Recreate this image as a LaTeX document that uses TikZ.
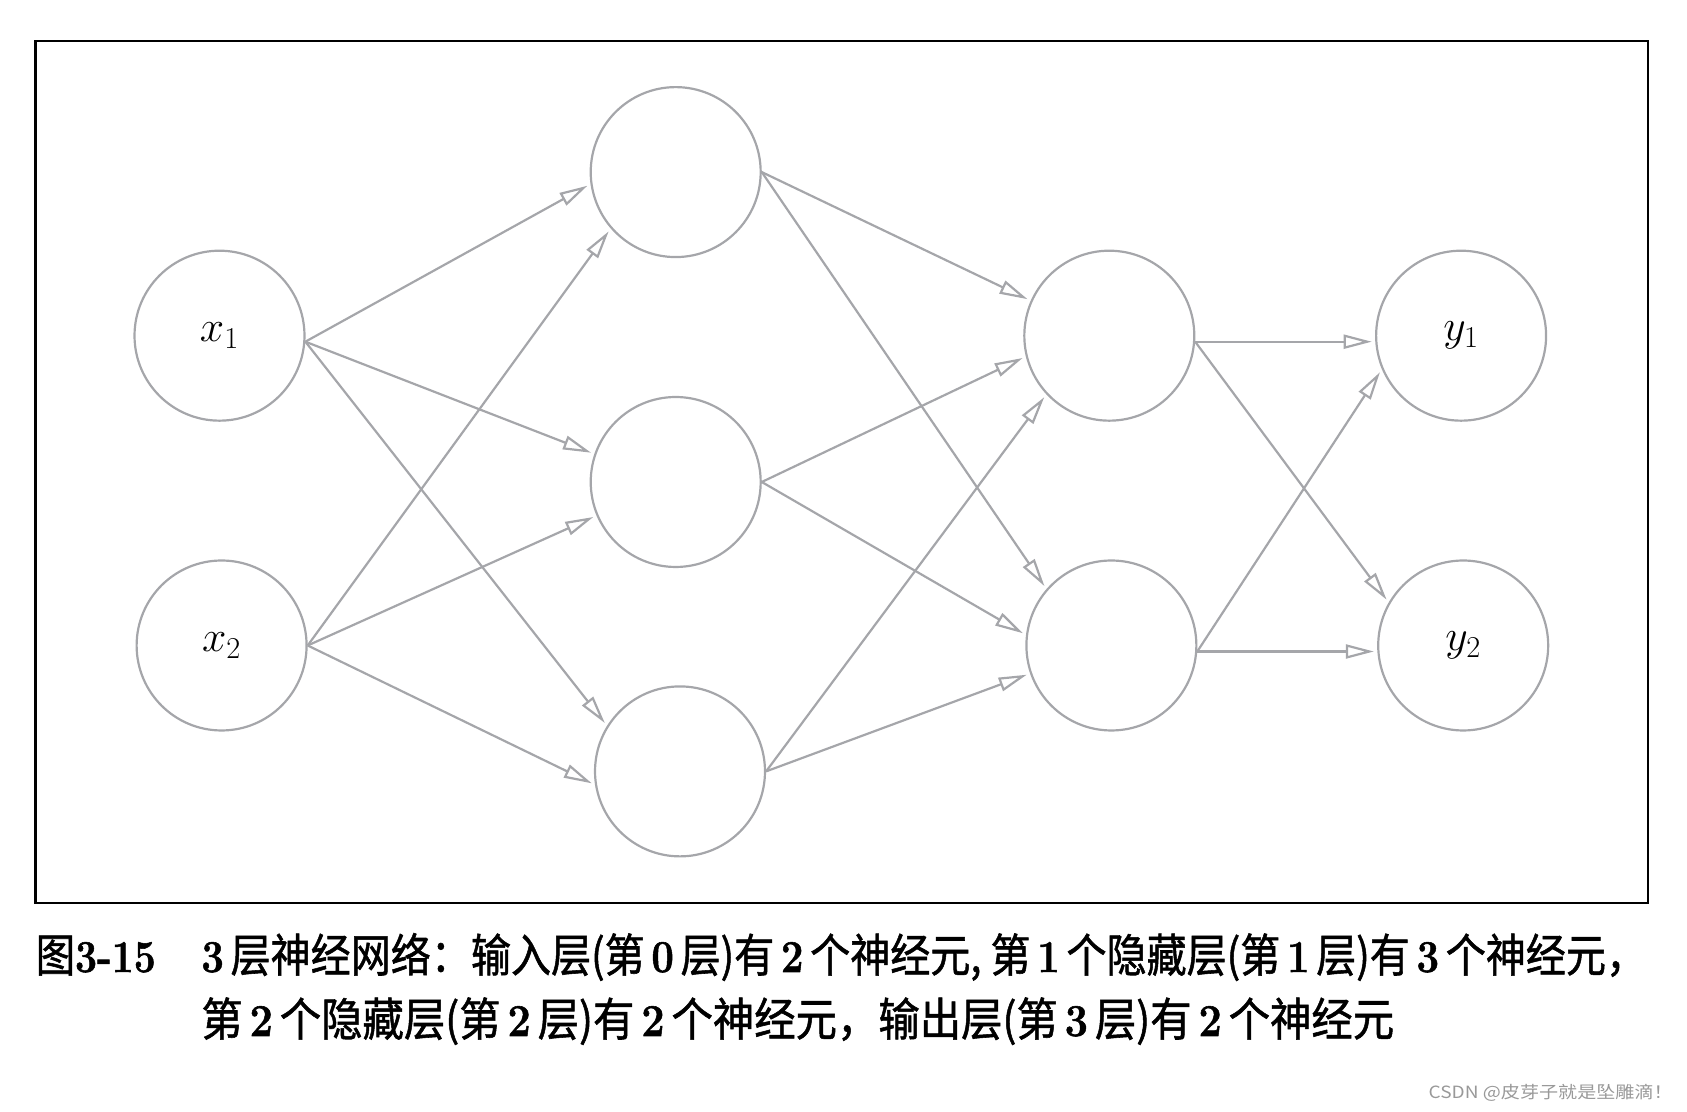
\documentclass[tikz,border=0pt]{standalone}
\usepackage{fontspec}
\usepackage{graphicx}
\newfontfamily\cjk{Noto Sans CJK SC}
\newfontfamily\cjkb{Noto Sans CJK SC}[FakeBold=1.2]
\newfontfamily\numf{Latin Modern Roman}[BoldFeatures={FakeBold=1.2}]
\usetikzlibrary{arrows.meta}
\definecolor{netgray}{RGB}{165,166,170}
\newcommand\bnum[1]{{\numf\bfseries #1}}
\begin{document}
\begin{tikzpicture}[x=0.02cm,y=0.02cm,
  neuron/.style={circle,draw=netgray,line width=1.25pt,minimum size=3.4cm,inner sep=0pt,font=\fontsize{24}{28}\selectfont},
  conn/.style={draw=netgray,line width=1.25pt,-{Triangle[open,length=0.56cm,width=0.28cm,line width=1.25pt]},shorten >=2pt},
  capline/.style={anchor=base west,inner sep=0pt,font=\cjkb\fontsize{26}{30}\selectfont}]
\useasboundingbox (0,0) rectangle (1687,1112);
\draw[line width=1.2pt] (35.5,209.3) rectangle (1648.3,1071.1);
\node[neuron] (x1) at (219.5,776.3) {$x_1$};
\node[neuron] (x2) at (221.6,466.5) {$x_2$};
\node[neuron] (h1) at (675.7,939.9) {};
\node[neuron] (h2) at (675.7,630.0) {};
\node[neuron] (h3) at (680.0,340.6) {};
\node[neuron] (o1) at (1109.3,776.3) {};
\node[neuron] (o2) at (1111.4,466.5) {};
\node[neuron] (y1) at (1461.1,776.3) {$y_1$};
\node[neuron] (y2) at (1463.2,466.5) {$y_2$};
% layer 1
\draw[conn] (x1.-4) -- (h1.188);
\draw[conn] (x2.0) -- (h1.221);
\draw[conn] (x1.-4) -- (h2.161);
\draw[conn] (x2.0) -- (h2.203);
\draw[conn] (x1.-4) -- (h3.148);
\draw[conn] (x2.0) -- (h3.189);
% layer 2
\draw[conn] (h1.0) -- (o1.156);
\draw[conn] (h2.0) -- (o1.194);
\draw[conn] (h3.0) -- (o1.223);
\draw[conn] (h1.0) -- (o2.139);
\draw[conn] (h2.0) -- (o2.173);
\draw[conn] (h3.0) -- (o2.199);
% layer 3
\draw[conn] (o1.-4) -- (y1.184);
\draw[conn] (o2.-4) -- (y1.203);
\draw[conn] (o1.-4) -- (y2.150);
\draw[conn] (o2.-4) -- (y2.184);
% caption
\node[capline] (fig) at (35.5,140) {\resizebox{2.4cm}{\height}{图\bnum{3-15}}};
\node[capline] (l1) at (201,140) {\resizebox{28.9cm}{\height}{\bnum{3}\,层神经网络：输入层(第\,\bnum{0}\,层)有\,\bnum{2}\,个神经元,\ 第\,\bnum{1}\,个隐藏层(第\,\bnum{1}\,层)有\,\bnum{3}\,个神经元，}};
\node[capline] (l2) at (201,76) {\resizebox{23.86cm}{\height}{第\,\bnum{2}\,个隐藏层(第\,\bnum{2}\,层)有\,\bnum{2}\,个神经元，输出层(第\,\bnum{3}\,层)有\,\bnum{2}\,个神经元}};
\node[anchor=base east,inner sep=0pt,text=gray!80,font=\cjk\fontsize{9.6}{11}\selectfont] (wm) at (1673,13) {\resizebox{4.88cm}{\height}{CSDN @皮芽子就是坠雕滴！}};
\end{tikzpicture}
\end{document}
